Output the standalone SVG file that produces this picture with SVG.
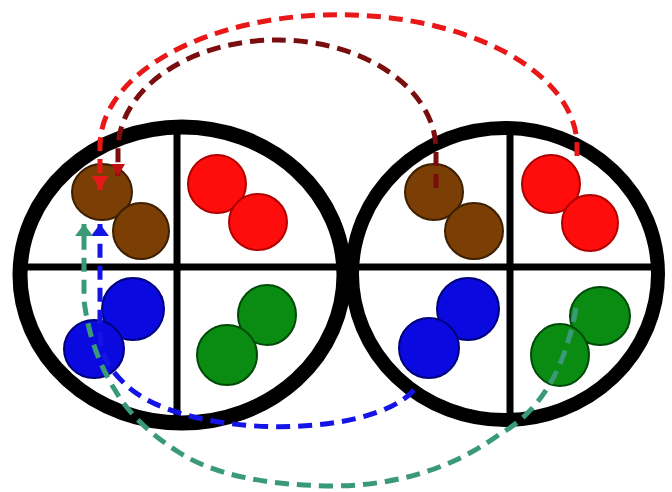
<svg xmlns="http://www.w3.org/2000/svg" width="672" height="492" viewBox="0 0 672 492">
<style>
.ring{fill:none;stroke:#000;stroke-width:15}
.div{stroke:#000;stroke-width:7;fill:none}
.brown{fill:#7b3f06;stroke:#3d1f02;stroke-width:2}
.red{fill:#ff0d0d;stroke:#b00000;stroke-width:2}
.blue{fill:#0a0ae0;stroke:#00007a;stroke-width:2}
.green{fill:#0a8c12;stroke:#004a08;stroke-width:2}
.dash{fill:none;stroke-width:5;stroke-dasharray:14 8}
</style>
<defs>
<marker id="aRed" markerUnits="userSpaceOnUse" markerWidth="14" markerHeight="16" refX="14" refY="8" orient="auto"><path d="M0,0 L14,8 L0,16 z" fill="#e81818"/></marker>
<marker id="aDark" markerUnits="userSpaceOnUse" markerWidth="12" markerHeight="14" refX="12" refY="7" orient="auto"><path d="M0,0 L12,7 L0,14 z" fill="#c01010"/></marker>
<marker id="aBlue" markerUnits="userSpaceOnUse" markerWidth="12" markerHeight="18" refX="12" refY="9" orient="auto"><path d="M0,0 L12,9 L0,18 z" fill="#1414e6"/></marker>
<marker id="aGreen" markerUnits="userSpaceOnUse" markerWidth="12" markerHeight="18" refX="12" refY="9" orient="auto"><path d="M0,0 L12,9 L0,18 z" fill="#3a9a78"/></marker>
</defs>
<rect width="672" height="492" fill="#fff"/>
<g id="left-circle">
<ellipse class="ring" cx="182" cy="275" rx="162" ry="148"/>
<line class="div" x1="177" y1="128" x2="177" y2="424"/>
<g id="left-brown"><ellipse class="brown" cx="102" cy="192" rx="30" ry="28"/><ellipse class="brown" cx="141" cy="231" rx="28" ry="28"/></g>
<g id="left-red"><ellipse class="red" cx="217" cy="184" rx="29" ry="29"/><ellipse class="red" cx="258" cy="222" rx="29" ry="28"/></g>
<g id="left-blue"><ellipse class="blue" cx="133" cy="309" rx="31" ry="31"/><ellipse class="blue" cx="94" cy="349" rx="30" ry="29"/></g>
<g id="left-green"><ellipse class="green" cx="267" cy="315" rx="29" ry="30"/><ellipse class="green" cx="227" cy="355" rx="30" ry="30"/></g>
</g>
<g id="right-circle">
<ellipse class="ring" cx="505" cy="274" rx="153" ry="146" style="stroke-width:14"/>
<line class="div" x1="510" y1="128" x2="510" y2="421"/>
<g id="right-brown"><ellipse class="brown" cx="434" cy="192" rx="29" ry="28"/><ellipse class="brown" cx="474" cy="231" rx="29" ry="28"/></g>
<g id="right-red"><ellipse class="red" cx="551" cy="184" rx="29" ry="29"/><ellipse class="red" cx="590" cy="223" rx="28" ry="28"/></g>
<g id="right-blue"><ellipse class="blue" cx="468" cy="309" rx="31" ry="31"/><ellipse class="blue" cx="429" cy="348" rx="30" ry="30"/></g>
<g id="right-green"><ellipse class="green" cx="600" cy="316" rx="30" ry="29"/><ellipse class="green" cx="560" cy="355" rx="29" ry="31"/></g>
</g>
<line id="divider" class="div" x1="18" y1="267" x2="660" y2="267"/>
<g id="connectors">
<path class="dash" stroke="#e81818" d="M577 156 L577 146 A238 131 0 0 0 100 146 L100 190" marker-end="url(#aRed)"/>
<path class="dash" stroke="#7a0e0e" d="M436 188 L436 150 A159 110 0 0 0 118 150 L118 176" marker-end="url(#aDark)"/>
<path class="dash" stroke="#1414e6" d="M414 390 C370 440 180 440 124 383 C105 365 100 350 100 330 L100 224" marker-end="url(#aBlue)"/>
<path class="dash" stroke="#3a9a78" d="M576 308 Q560 400 500 434 Q430 485 334 486 Q230 485 180 453 Q135 425 115 390 Q90 350 84 300 L84 224" marker-end="url(#aGreen)"/>
</g>
</svg>
